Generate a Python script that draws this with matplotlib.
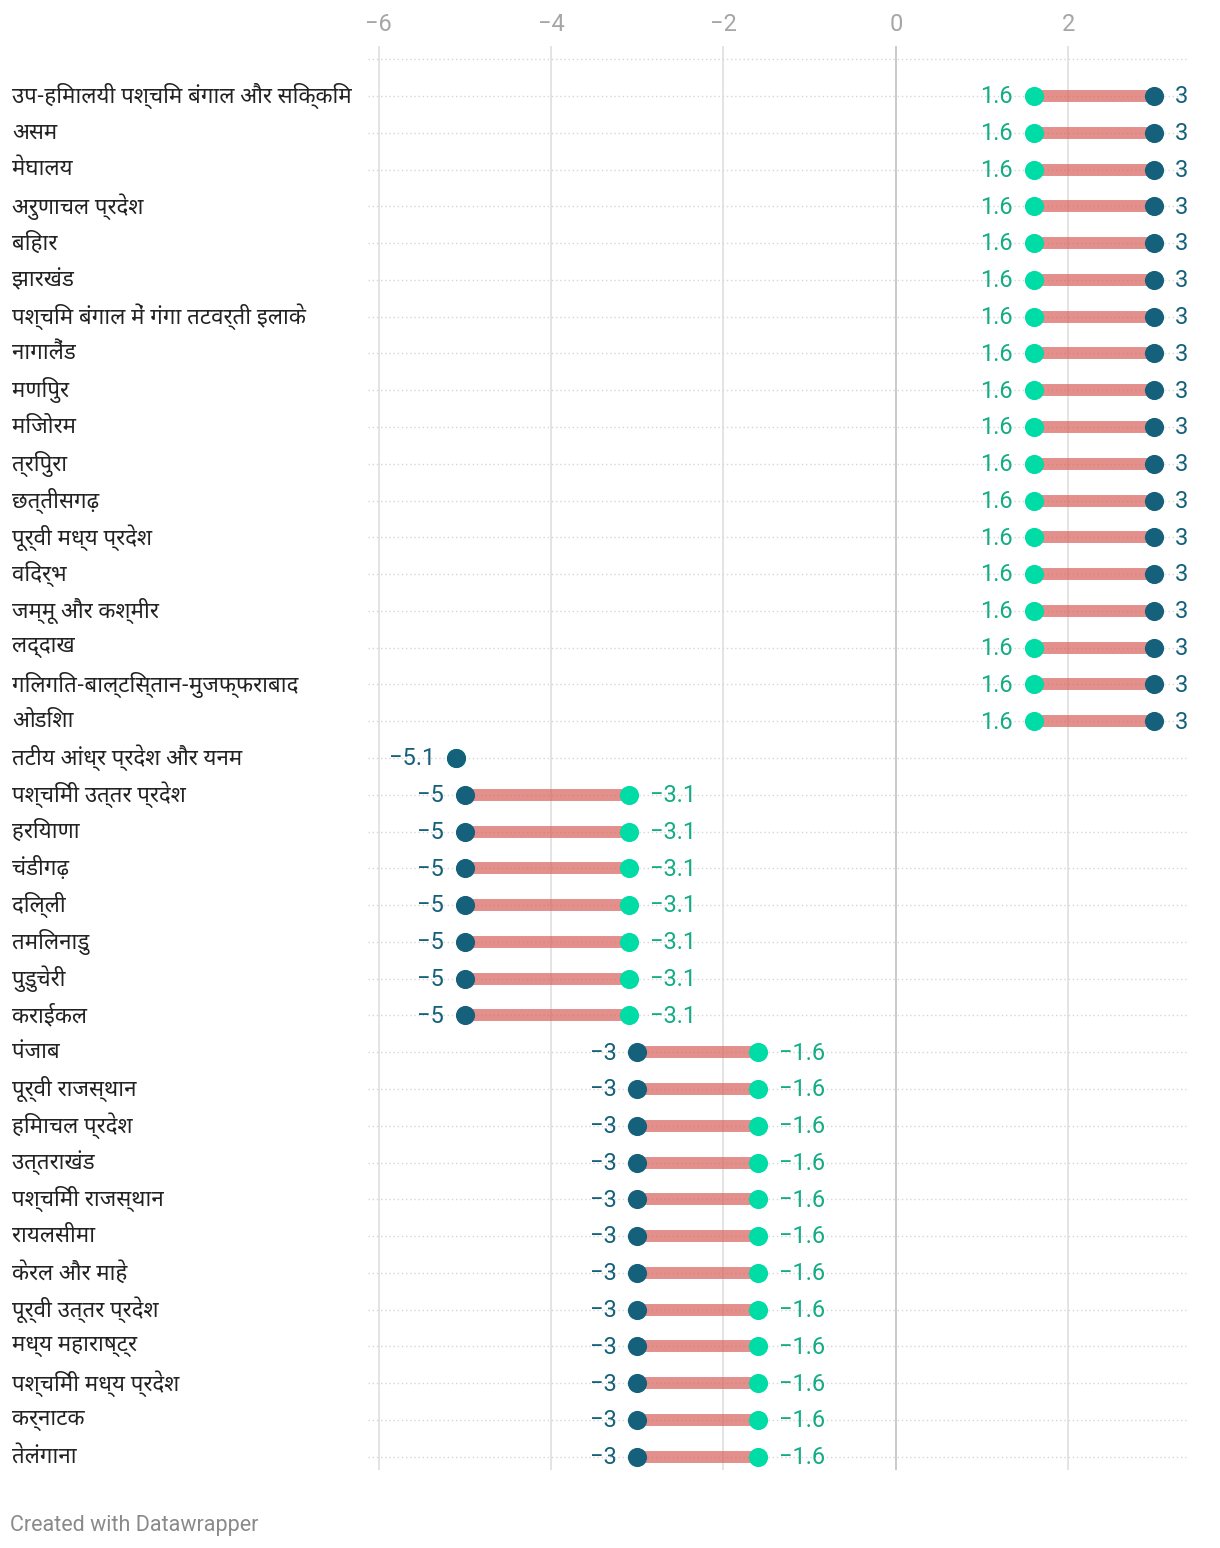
import matplotlib
matplotlib.use('Agg')
import matplotlib.pyplot as plt
from matplotlib import font_manager

# region names (top to bottom)
regions = [
    'उप-हिमालयी पश्चिम बंगाल और सिक्किम', 'असम', 'मेघालय', 'अरुणाचल प्रदेश',
    'बिहार', 'झारखंड', 'पश्चिम बंगाल में गंगा तटवर्ती इलाके', 'नागालैंड',
    'मणिपुर', 'मिजोरम', 'त्रिपुरा', 'छत्तीसगढ़', 'पूर्वी मध्य प्रदेश', 'विदर्भ',
    'जम्मू और कश्मीर', 'लद्दाख', 'गिलगित-बाल्टिस्तान-मुजफ्फराबाद', 'ओडिशा',
    'तटीय आंध्र प्रदेश और यनम', 'पश्चिमी उत्तर प्रदेश', 'हरियाणा', 'चंडीगढ़',
    'दिल्ली', 'तमिलनाडु', 'पुडुचेरी', 'कराईकल', 'पंजाब', 'पूर्वी राजस्थान',
    'हिमाचल प्रदेश', 'उत्तराखंड', 'पश्चिमी राजस्थान', 'रायलसीमा', 'केरल और माहे',
    'पूर्वी उत्तर प्रदेश', 'मध्य महाराष्ट्र', 'पश्चिमी मध्य प्रदेश', 'कर्नाटक', 'तेलंगाना',
]
# dark dots / green dots
dark_vals = [3] * 18 + [-5.1] + [-5] * 7 + [-3] * 12
green_vals = [1.6] * 18 + [-5.1] + [-3.1] * 7 + [-1.6] * 12
x_ticks = [-6, -4, -2, 0, 2]

DARK = '#15607a'
GREEN = '#00dca6'
GREEN_TXT = '#13ac84'
BAR = '#d8605c'

avail = set(f.name for f in font_manager.fontManager.ttflist)
deva = next((f for f in ['Noto Sans Devanagari', 'Hind', 'Mukta', 'Lohit Devanagari', 'FreeSans'] if f in avail), 'DejaVu Sans')
plt.rcParams['font.family'] = ['Roboto', deva, 'DejaVu Sans']


def fmt(v):
    s = ('%g' % v)
    return s.replace('-', '\u2212')


fig = plt.figure(figsize=(12.2, 15.48), dpi=100)
ax = fig.add_axes([368 / 1220, 1 - 1470 / 1548, 820 / 1220, 1424 / 1548])

n = len(regions)
ax.set_xlim(-6.125, 3.39)
ax.set_ylim(37.36, -1.36)

for t in x_ticks:
    ax.axvline(t, color='#c6c6c6' if t == 0 else '#e2e2e2', lw=1.3, zorder=0)
for i in range(-1, n):
    ax.axhline(i, color='#d6d6d6', lw=1, linestyle=(0, (1, 2)), zorder=0)

for i in range(n):
    d, g = dark_vals[i], green_vals[i]
    if d != g:
        ax.plot([d, g], [i, i], color=BAR, alpha=0.7, lw=8.6, solid_capstyle='butt', zorder=2)
    ax.scatter([g], [i], s=190, color=GREEN, zorder=3, linewidths=0)
    ax.scatter([d], [i], s=190, color=DARK, zorder=4, linewidths=0)
    lo, hi = min(d, g), max(d, g)
    lo_c = DARK if lo == d else GREEN_TXT
    hi_c = DARK if hi == d else GREEN_TXT
    ax.annotate(fmt(lo), (lo, i), xytext=(-15, -0.6), textcoords='offset points',
                ha='right', va='center', fontsize=17, color=lo_c)
    if d != g:
        ax.annotate(fmt(hi), (hi, i), xytext=(15, -0.6), textcoords='offset points',
                    ha='left', va='center', fontsize=17, color=hi_c)
    fig.text(12 / 1220, 1 - (96 + i * 36.78) / 1548, regions[i], ha='left', va='center',
             fontsize=16, color='#222222', family=[deva, 'Roboto'])

ax.xaxis.tick_top()
ax.set_xticks(x_ticks)
ax.set_xticklabels([fmt(t) for t in x_ticks])
ax.tick_params(axis='x', length=0, pad=7, labelsize=17, labelcolor='#a6a6a6')
ax.set_yticks([])
for s in ax.spines.values():
    s.set_visible(False)

fig.text(10 / 1220, 1 - 1525 / 1548, 'Created with Datawrapper', ha='left', va='center',
         fontsize=15.5, color='#8a8a8a')

fig.savefig('out.png', dpi=100)
